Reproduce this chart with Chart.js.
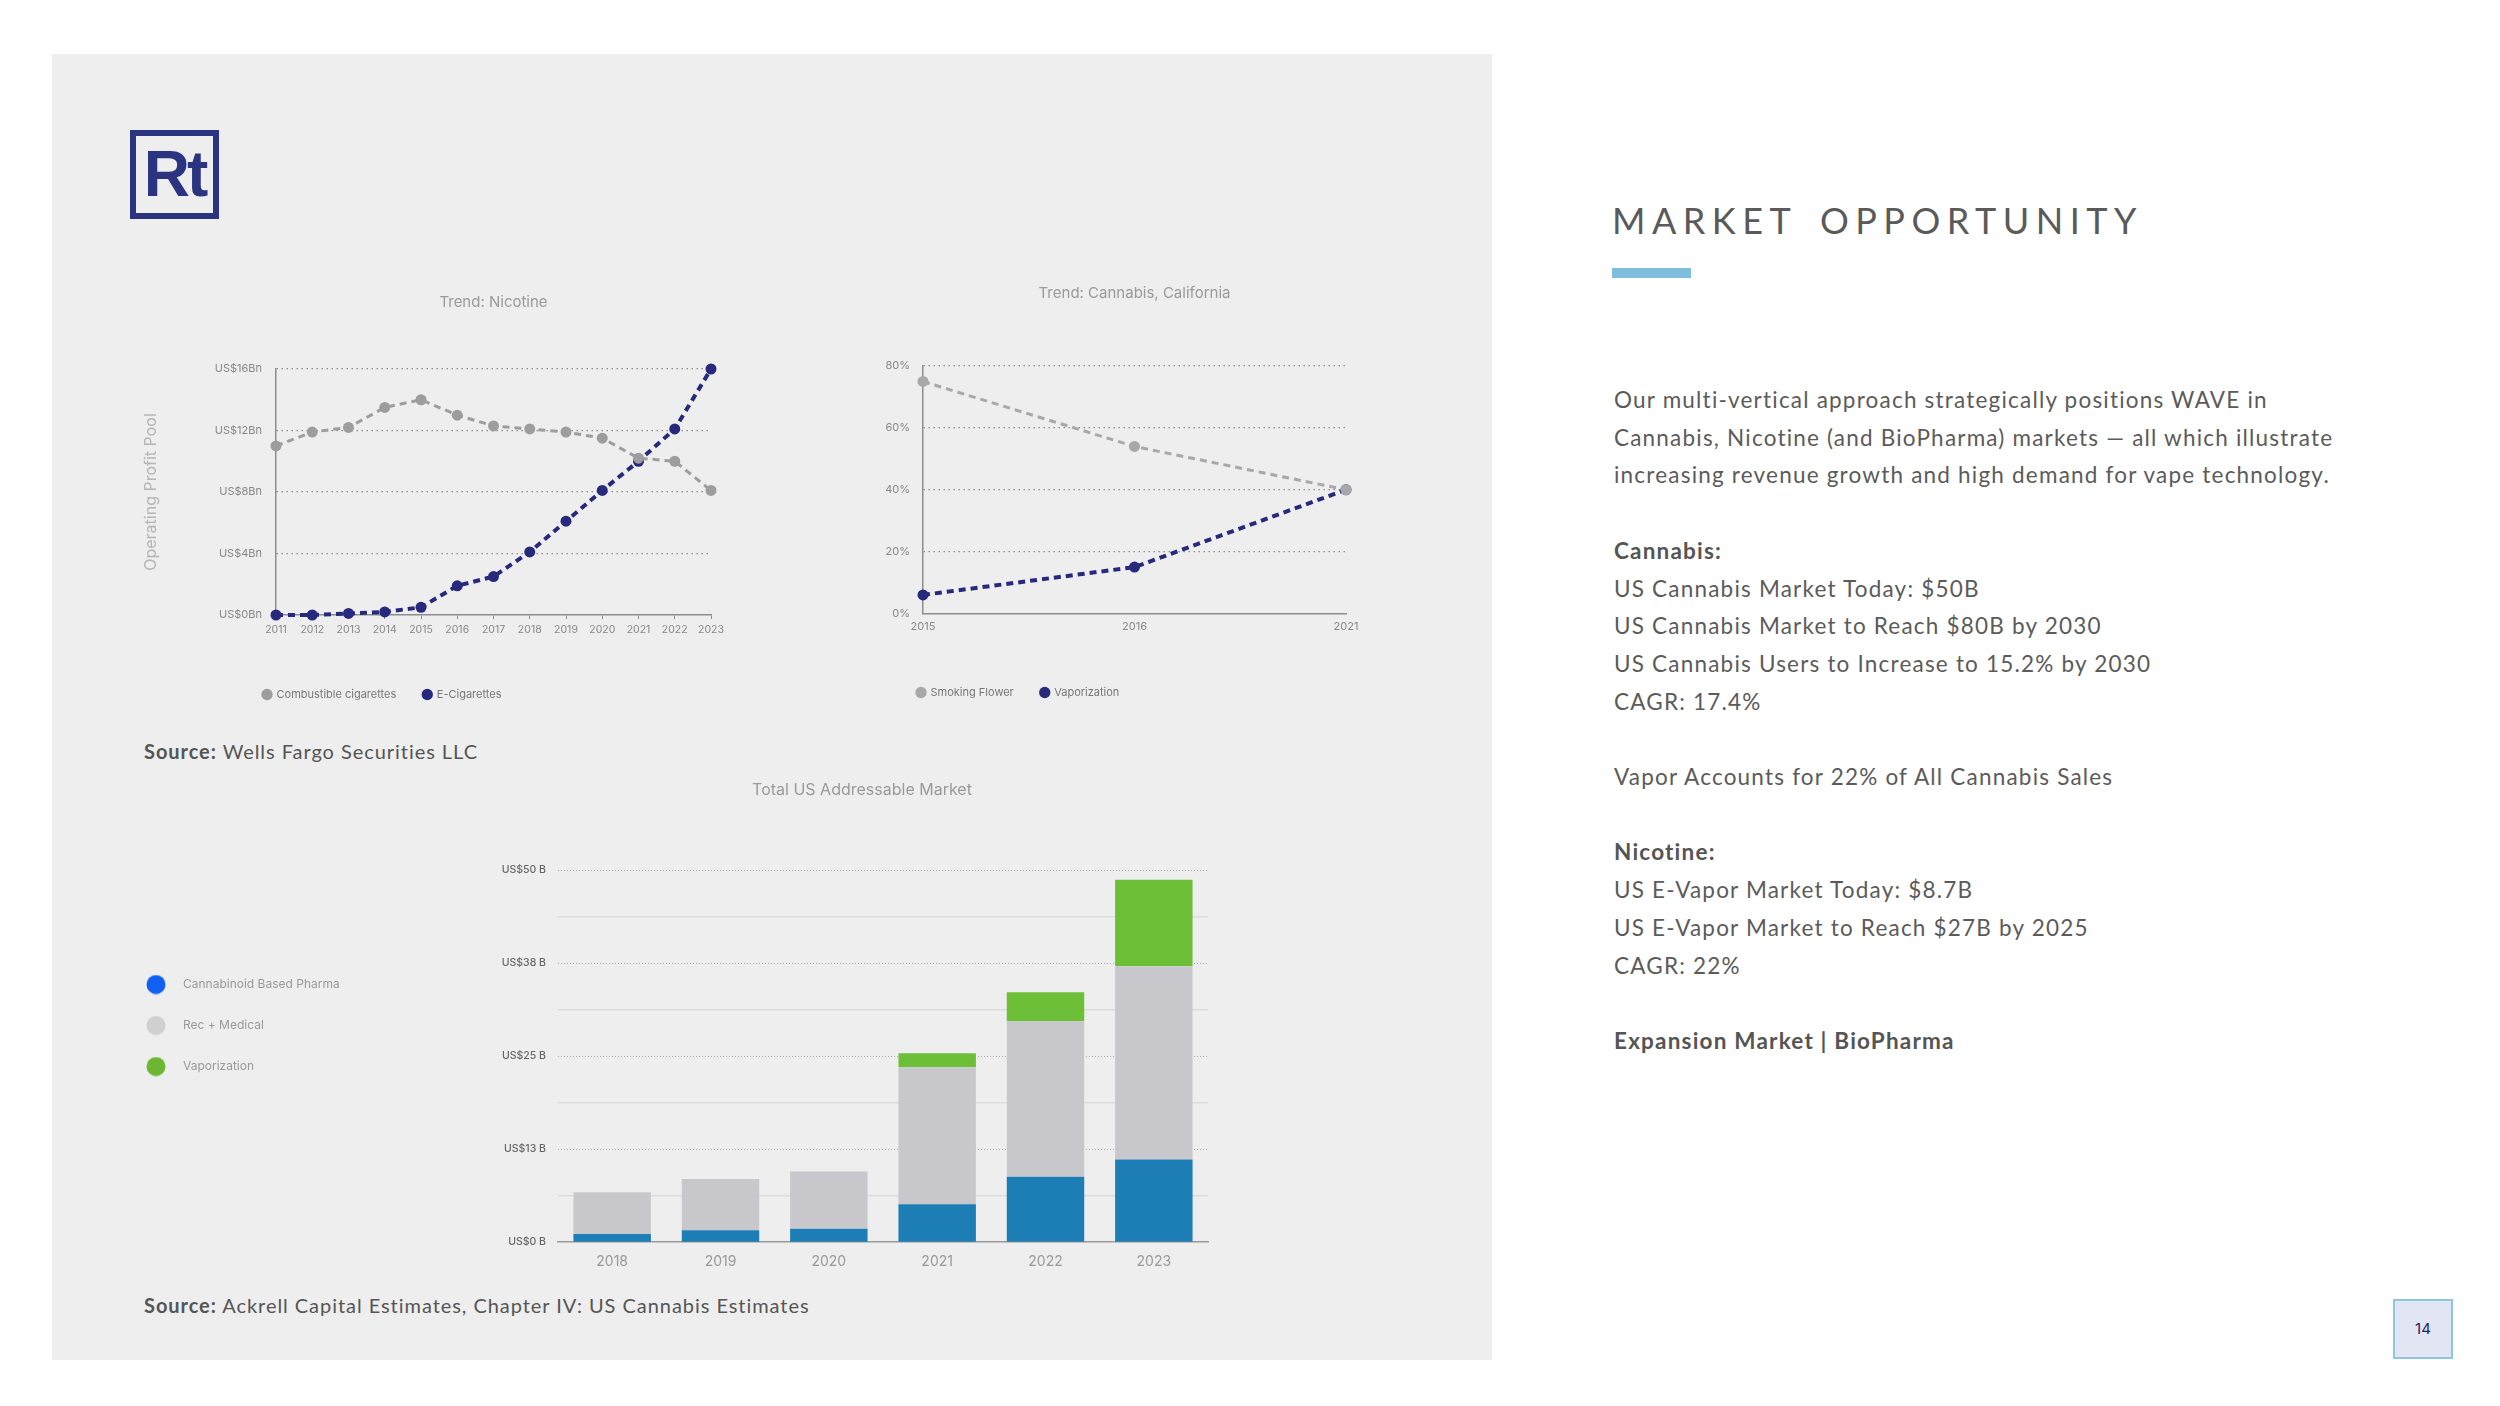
<!DOCTYPE html>
<html>
<head>
<meta charset="utf-8">
<script src="https://cdn.jsdelivr.net/npm/chart.js@4.4.1/dist/chart.umd.min.js"></script>
<style>
  html, body { margin: 0; padding: 0; background: #fff; }
  body { width: 2500px; height: 1406px; position: relative; overflow: hidden; font-family: Lato, sans-serif; }
  .abs { position: absolute; }
  #panel { left: 52px; top: 54px; width: 1440px; height: 1306px; background: #eeeeee; }
  #logo { left: 130px; top: 130px; width: 77px; height: 77px; border: 6px solid #2b3481; color: #2b3481;
          font: bold 64px "Liberation Sans", Arial, sans-serif; letter-spacing: -3px; line-height: 77px; text-align: center; }
  .source { left: 144px; font-size: 20px; color: #555; letter-spacing: 0.95px; white-space: nowrap; line-height: 24px; }
  .source b { font-weight: 700; }
  #heading { left: 1612px; top: 196px; font-size: 36px; color: #5a5a5a; letter-spacing: 6.5px; word-spacing: 8px; white-space: nowrap; line-height: 48px; }
  #rule { left: 1612px; top: 268px; width: 79px; height: 10px; background: #7ebedb; }
  #copy { left: 1614px; top: 381px; font-size: 22.5px; color: #5b5b5b; line-height: 37.7px; letter-spacing: 1.2px; white-space: nowrap; }
  #copy b { font-weight: 700; color: #555; }
  #page { left: 2393px; top: 1299px; width: 56px; height: 56px; background: #e2e5f3; border: 2px solid #8ec6de;
          color: #1f2466; font: 15px Inter, sans-serif; line-height: 56px; text-align: center; }
  canvas { position: absolute; }
</style>
</head>
<body>
<div id="panel" class="abs"></div>
<div id="logo" class="abs">Rt</div>

<canvas id="nicotine" width="600" height="440" style="left:130px;top:270px"></canvas>
<canvas id="cannabis" width="500" height="443" style="left:875px;top:265px"></canvas>
<canvas id="market" width="1100" height="511" style="left:120px;top:770px"></canvas>

<div class="abs source" style="top:739px"><b>Source:</b> Wells Fargo Securities LLC</div>
<div class="abs source" style="top:1293px"><b>Source:</b> Ackrell Capital Estimates, Chapter IV: US Cannabis Estimates</div>

<div id="heading" class="abs">MARKET OPPORTUNITY</div>
<div id="rule" class="abs"></div>
<div id="copy" class="abs">
Our multi-vertical approach strategically positions WAVE in<br>
Cannabis, Nicotine (and BioPharma) markets — all which illustrate<br>
increasing revenue growth and high demand for vape technology.<br>
<br>
<b>Cannabis:</b><br>
US Cannabis Market Today: $50B<br>
US Cannabis Market to Reach $80B by 2030<br>
US Cannabis Users to Increase to 15.2% by 2030<br>
CAGR: 17.4%<br>
<br>
Vapor Accounts for 22% of All Cannabis Sales<br>
<br>
<b>Nicotine:</b><br>
US E-Vapor Market Today: $8.7B<br>
US E-Vapor Market to Reach $27B by 2025<br>
CAGR: 22%<br>
<br>
<b>Expansion Market | BioPharma</b>
</div>
<div id="page" class="abs">14</div>

<script>
// nicotine trend (US$ bn)
const nicYears = ['2011', '2012', '2013', '2014', '2015', '2016', '2017', '2018', '2019', '2020', '2021', '2022', '2023'];
const combustible = [11.0, 11.9, 12.2, 13.5, 14.0, 13.0, 12.3, 12.1, 11.9, 11.5, 10.2, 10.0, 8.1];
const eCigarettes = [0.0, 0.0, 0.1, 0.2, 0.5, 1.9, 2.5, 4.1, 6.1, 8.1, 10.0, 12.1, 16.0];
const nicTicks = [0, 4, 8, 12, 16];
const nicTickLabels = ['US$0Bn', 'US$4Bn', 'US$8Bn', 'US$12Bn', 'US$16Bn'];

// cannabis, california (share %)
const canYears = ['2015', '2016', '2021'];
const smokingFlower = [75, 54, 40];
const vaporization = [6, 15, 40];
const canTicks = [0, 20, 40, 60, 80];
const canTickLabels = ['0%', '20%', '40%', '60%', '80%'];

// total US addressable market (US$ bn)
const marketYears = ['2018', '2019', '2020', '2021', '2022', '2023'];
const pharma = [1.1, 1.6, 1.8, 5.1, 8.8, 11.1];
const recMedical = [5.6, 6.9, 7.7, 18.4, 20.9, 26.0];
const vaporMarket = [0, 0, 0, 1.9, 3.9, 11.6];
const marketTicks = [0, 12.5, 25, 37.5, 50];
const marketTickLabels = ['US$0 B', 'US$13 B', 'US$25 B', 'US$38 B', 'US$50 B'];
const marketMinorTicks = [6.25, 18.75, 31.25, 43.75];

Chart.defaults.font.family = 'Inter, sans-serif';
Chart.defaults.animation = false;

var NAVY = '#27297c';
var GREY = '#9d9d9d';
var AXIS = '#8d8d8d';

// slides legend / title boxes sideways after layout, they can't be offset otherwise
var boxShift = {
  id: 'boxShift',
  afterLayout: function (chart, args, opts) {
    [[chart.legend, opts.legend], [chart.titleBlock, opts.title]].forEach(function (p) {
      if (p[0] && p[1]) {
        p[0].left += p[1];
        p[0].right += p[1];
      }
    });
  }
};

// legend dot sitting left inside a wider marker, leaves a gap before the label
function dotMarker(color) {
  var c = document.createElement('canvas');
  c.width = 50;
  c.height = 20;
  var g = c.getContext('2d');
  g.fillStyle = color;
  g.beginPath();
  g.arc(10, 10, 9.5, 0, Math.PI * 2);
  g.fill();
  return c;
}

function lineSet(label, data, color, width) {
  return {
    label: label,
    data: data,
    borderColor: color,
    backgroundColor: color,
    borderWidth: width,
    borderDash: [7, 5],
    pointRadius: 5.5,
    pointBorderWidth: 0,
    pointBackgroundColor: color,
    tension: 0,
    clip: false
  };
}

function tickSetter(values) {
  return function (s) {
    s.ticks = values.map(function (v) { return {value: v}; });
  };
}

function lineLegend() {
  return {
    position: 'bottom',
    align: 'start',
    labels: {
      usePointStyle: true, pointStyle: 'circle', boxWidth: 8, boxHeight: 8,
      padding: 27, color: '#777', font: {size: 11}
    }
  };
}

new Chart(document.getElementById('nicotine'), {
  type: 'line',
  data: {
    labels: nicYears,
    datasets: [
      lineSet('Combustible cigarettes', combustible, GREY, 3),
      lineSet('E-Cigarettes', eCigarettes, NAVY, 4)
    ]
  },
  plugins: [boxShift],
  options: {
    responsive: false,
    devicePixelRatio: 1,
    layout: {padding: {right: 19}},
    plugins: {
      title: {display: true, text: 'Trend: Nicotine', fullSize: false, color: '#9a9a9a',
        font: {size: 15, weight: 'normal'}, padding: {top: 23, bottom: 58}},
      legend: lineLegend(),
      boxShift: {legend: 106},
      tooltip: {enabled: false}
    },
    scales: {
      x: {
        afterFit: function (s) { s.height = 47; },
        grid: {drawOnChartArea: false, drawTicks: true, tickLength: 4, color: AXIS},
        border: {color: AXIS, width: 1.5},
        ticks: {color: '#888', font: {size: 10.5}, padding: 5, maxRotation: 0, autoSkip: false}
      },
      y: {
        min: 0, max: 16,
        afterBuildTicks: tickSetter(nicTicks),
        afterFit: function (s) { s.width = 146; },
        grid: {drawTicks: false, lineWidth: 1.2,
          color: function (c) { return c.tick && c.tick.value === 0 ? 'transparent' : AXIS; }},
        border: {color: AXIS, width: 1.5, dash: [1.5, 3.5]},
        ticks: {color: '#888', font: {size: 11}, padding: 14,
          callback: function (v, i) { return nicTickLabels[i]; }},
        title: {display: true, text: 'Operating Profit Pool', color: '#b5b5b5',
          font: {size: 16}, padding: {top: 12, bottom: 0}}
      }
    }
  }
});

new Chart(document.getElementById('cannabis'), {
  type: 'line',
  data: {
    labels: canYears,
    datasets: [
      lineSet('Smoking Flower', smokingFlower, '#a8a8a8', 3),
      lineSet('Vaporization', vaporization, NAVY, 4)
    ]
  },
  plugins: [boxShift],
  options: {
    responsive: false,
    devicePixelRatio: 1,
    layout: {padding: {right: 29}},
    plugins: {
      title: {display: true, text: 'Trend: Cannabis, California', fullSize: false, color: '#9a9a9a',
        font: {size: 15, weight: 'normal'}, padding: {top: 19, bottom: 64}},
      legend: lineLegend(),
      boxShift: {legend: 15},
      tooltip: {enabled: false}
    },
    scales: {
      x: {
        afterFit: function (s) { s.height = 46.5; },
        grid: {display: false, drawTicks: false},
        border: {color: AXIS, width: 1.5},
        ticks: {color: '#888', font: {size: 11}, padding: 7, maxRotation: 0}
      },
      y: {
        min: 0, max: 80,
        afterBuildTicks: tickSetter(canTicks),
        afterFit: function (s) { s.width = 48; },
        grid: {drawTicks: false, lineWidth: 1.2,
          color: function (c) { return c.tick && c.tick.value === 0 ? 'transparent' : AXIS; }},
        border: {color: AXIS, width: 1.5, dash: [1.5, 3.5]},
        ticks: {color: '#888', font: {size: 11}, padding: 13,
          callback: function (v, i) { return canTickLabels[i]; }}
      }
    }
  }
});

var legendDots = ['#1060f2', '#d0d0d0', '#6cb634'];

new Chart(document.getElementById('market'), {
  type: 'bar',
  data: {
    labels: marketYears,
    datasets: [
      {label: 'Cannabinoid Based Pharma', data: pharma, backgroundColor: '#1d7db5'},
      {label: 'Rec + Medical', data: recMedical, backgroundColor: '#c8c8cc'},
      {label: 'Vaporization', data: vaporMarket, backgroundColor: '#6dbf38'}
    ]
  },
  plugins: [boxShift],
  options: {
    responsive: false,
    devicePixelRatio: 1,
    layout: {padding: {right: 12}},
    datasets: {bar: {barPercentage: 0.715, categoryPercentage: 1, borderWidth: 0}},
    plugins: {
      title: {display: true, text: 'Total US Addressable Market', fullSize: false, color: '#9a9a9a',
        font: {size: 16, weight: 'normal'}, padding: {top: 11, bottom: 70}},
      boxShift: {title: -21, legend: 16},
      legend: {
        position: 'left',
        align: 'center',
        maxWidth: 320,
        labels: {
          usePointStyle: true, boxWidth: 13, boxHeight: 13, padding: 29,
          color: '#999', font: {size: 12},
          generateLabels: function (chart) {
            return chart.data.datasets.map(function (d, i) {
              return {text: d.label, fillStyle: legendDots[i], strokeStyle: legendDots[i],
                lineWidth: 0, pointStyle: dotMarker(legendDots[i]), datasetIndex: i, fontColor: '#999'};
            });
          }
        }
      },
      tooltip: {enabled: false}
    },
    scales: {
      x: {
        stacked: true,
        grid: {display: false, drawTicks: false},
        border: {color: '#9a9a9a', width: 1.5},
        ticks: {color: '#999', font: {size: 14}, padding: 11}
      },
      y: {
        stacked: true,
        min: 0, max: 50,
        afterBuildTicks: tickSetter(marketTicks),
        afterFit: function (s) { s.width = 438 - s.chart.legend.width; },
        grid: {drawTicks: false, lineWidth: 1,
          color: function (c) { return c.tick && c.tick.value === 0 ? 'transparent' : '#a9a9a9'; }},
        border: {display: false, dash: [1, 2]},
        ticks: {color: '#666', font: {size: 10.5, weight: '500'}, padding: 12,
          callback: function (v, i) { return marketTickLabels[i]; }}
      },
      minor: {
        type: 'linear',
        position: 'left',
        min: 0, max: 50,
        afterBuildTicks: tickSetter(marketMinorTicks),
        grid: {drawTicks: false, lineWidth: 1.5, color: '#dcdcdc'},
        border: {display: false},
        ticks: {display: false}
      }
    }
  }
});
</script>
</body>
</html>
